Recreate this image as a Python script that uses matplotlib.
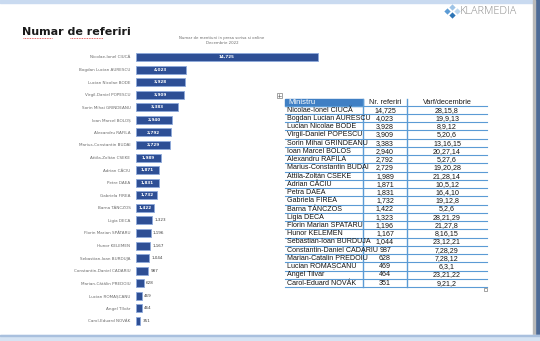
import matplotlib.pyplot as plt
from matplotlib.patches import Rectangle

names = ["Nicolae-Ionel CIUCĂ", "Bogdan Lucian AURESCU", "Lucian Nicolae BODE",
         "Virgil-Daniel POPESCU", "Sorin Mihai GRINDEANU", "Ioan Marcel BOLOȘ",
         "Alexandru RAFILA", "Marius-Constantin BUDAI", "Attila-Zoltán CSEKE",
         "Adrian CÂCIU", "Petre DAEA", "Gabriela FIREA", "Barna TÁNCZOS",
         "Ligia DECA", "Florin Marian SPĂTARU", "Hunor KELEMEN",
         "Sebastian-Ioan BURDUJA", "Constantin-Daniel CADARIU",
         "Marian-Cătălin PREDOIU", "Lucian ROMAȘCANU", "Angel Tîlvăr",
         "Carol-Eduard NOVÁK"]
values = [14725, 4023, 3928, 3909, 3383, 2940, 2792, 2729, 1989, 1871, 1831,
          1732, 1422, 1323, 1196, 1167, 1044, 987, 628, 469, 464, 351]
varf = ["28,15,8", "19,9,13", "8,9,12", "5,20,6", "13,16,15", "20,27,14",
        "5,27,6", "19,20,28", "21,28,14", "10,5,12", "16,4,10", "19,12,8",
        "5,2,6", "28,21,29", "21,27,8", "8,16,15", "23,12,21", "7,28,29",
        "7,28,12", "6,3,1", "23,21,22", "9,21,2"]
table_names = ["Nicolae-Ionel CIUCĂ", "Bogdan Lucian AURESCU", "Lucian Nicolae BODE",
               "Virgil-Daniel POPESCU", "Sorin Mihai GRINDEANU", "Ioan Marcel BOLOS",
               "Alexandru RAFILA", "Marius-Constantin BUDAI", "Attila-Zoltán CSEKE",
               "Adrian CÂCIU", "Petra DAEA", "Gabriela FIREA", "Barna TÁNCZOS",
               "Ligia DECA", "Florin Marian SPATARU", "Hunor KELEMEN",
               "Sebastian-Ioan BURDUJA", "Constantin-Daniel CADARIU",
               "Marian-Catalin PREDOIU", "Lucian ROMAȘCANU", "Angel Tilvar",
               "Carol-Eduard NOVÁK"]
table_values = [14725, 4023, 3928, 3909, 3383, 2940, 2792, 2729, 1989, 1871,
                1831, 1732, 1422, 1323, 1196, 1167, 1044, 987, 628, 469, 464, 351]
headers = ["Ministru", "Nr. referiri", "Varf/decembrie"]

W, H = 540, 341
fig = plt.figure(figsize=(W / 100, H / 100), dpi=100)
fig.patch.set_facecolor("white")

# page overlay in pixel coordinates
bg = fig.add_axes([0, 0, 1, 1])
bg.set_xlim(0, W)
bg.set_ylim(H, 0)
bg.axis("off")

# window chrome
bg.add_patch(Rectangle((0, 0), W, 2.5, color="#c9daf0", zorder=1))
bg.add_patch(Rectangle((535, 0), 5, H, color="#4d6a96", zorder=1))
bg.add_patch(Rectangle((533, 0), 2, H, color="#b8b8b8", zorder=1))
bg.add_patch(Rectangle((0, 335), W, 6, color="#d5e3f3", zorder=2))
bg.add_patch(Rectangle((0, 335), W, 0.8, color="#a9c0de", zorder=2))

# logo
for dx, dy, c in [(447, 11, "#5b9bd5"), (452, 7, "#9dc3e6"), (452, 15, "#2e75b6"),
                  (456.5, 11, "#bdd7ee")]:
    bg.plot(dx, dy, marker="D", ms=3.2, color=c, mec="none")
bg.text(460, 11.5, "KLARMEDIA", fontsize=7.8, color="#8c8c8c", va="center",
        ha="left", family=["Open Sans", "DejaVu Sans"], fontweight="light")

# title
bg.text(22, 32, "Numar de referiri", fontsize=8, fontweight="bold", color="#1a1a1a",
        va="center", ha="left")
bg.plot([23, 52], [37.5, 37.5], color="#e03030", lw=0.6, ls=(0, (1, 1)))
bg.plot([70, 103], [37.5, 37.5], color="#e03030", lw=0.6, ls=(0, (1, 1)))

# subtitle
bg.text(222, 38, "Numar de mentiuni in presa scrisa si online", fontsize=2.8,
        color="#6b6b6b", ha="center", va="center")
bg.text(222, 43, "Decembrie 2022", fontsize=2.8, color="#6b6b6b", ha="center",
        va="center")

# bar chart
x0, x1 = 136, 320
step = (321 - 57) / 21
y_top, y_bot = 57 - step / 2, 321 + step / 2
ax = fig.add_axes([x0 / W, 1 - y_bot / H, (x1 - x0) / W, (y_bot - y_top) / H])
ax.patch.set_visible(False)
ypos = list(range(len(names)))
ax.barh(ypos, values, height=0.64, color="#2e4f95", edgecolor="#8eaadb", lw=0.6)
ax.set_ylim(len(names) - 0.5, -0.5)
ax.set_xlim(0, 14725 * (x1 - x0) / 182)
ax.set_yticks(ypos)
ax.set_yticklabels(names, fontsize=3.0, color="#6b6b6b")
ax.tick_params(axis="y", length=0, pad=4)
ax.set_xticks([])
for s in ax.spines.values():
    s.set_visible(False)
for i, v in enumerate(values):
    lab = f"{v:,}"
    if v >= 1400:
        ax.text(v / 2, i, lab, color="white", fontsize=3.0, fontweight="bold",
                ha="center", va="center")
    else:
        ax.text(v + 180, i, lab, color="#404040", fontsize=3.0, ha="left",
                va="center")

# table
tl, tr = 285, 487
c1, c2 = 363, 407
t_top = 97.5
t_bot = 287
nrows = len(table_names)
rh = (t_bot - t_top) / (nrows + 1)
tfont = ["Liberation Sans Narrow", "Liberation Sans", "DejaVu Sans"]
bg.add_patch(Rectangle((tl, t_top + 1.0), c1 - tl, rh - 1.0, color="#3f7fc4", zorder=3))
hy = t_top + rh / 2 + 0.6
bg.text(tl + 3, hy, headers[0], fontsize=5.6, color="white",
        va="center", ha="left", family=tfont, zorder=4)
bg.text((c1 + c2) / 2, hy, headers[1], fontsize=5.3, color="#1f1f1f",
        va="center", ha="center", family=tfont, zorder=4)
bg.text((c2 + tr) / 2, hy, headers[2], fontsize=5.3, color="#1f1f1f",
        va="center", ha="center", family=tfont, zorder=4)
for r in range(nrows):
    yc = t_top + rh * (r + 1) + rh / 2 + 0.3
    bg.text(tl + 2, yc, table_names[r], fontsize=5.1, color="#141414", va="center",
            ha="left", family=tfont, zorder=4)
    bg.text((c1 + c2) / 2, yc, f"{table_values[r]:,}", fontsize=5.1, color="#141414",
            va="center", ha="center", family=tfont, zorder=4)
    bg.text((c2 + tr) / 2, yc, varf[r], fontsize=5.1, color="#141414", va="center",
            ha="center", family=tfont, zorder=4)
for r in range(1, nrows + 2):
    yy = t_top + rh * r
    bg.plot([tl, tr], [yy, yy], color="#5b9bd5", lw=0.8, zorder=3)
for xx in (c1, c2):
    bg.plot([xx, xx], [t_top + 1.0, t_bot], color="#5b9bd5", lw=1.0, zorder=3)

# table handles
bg.add_patch(Rectangle((276.5, 93), 5, 5, fill=False, ec="#7f7f7f", lw=0.5, zorder=4))
bg.plot([277.5, 280.5], [95.5, 95.5], color="#555555", lw=0.4, zorder=5)
bg.plot([279, 279], [94, 97], color="#555555", lw=0.4, zorder=5)
bg.add_patch(Rectangle((484, t_bot + 0.5), 3, 3, fill=False, ec="#7f7f7f", lw=0.5, zorder=4))

fig.savefig("out.png", dpi=100, facecolor="white")
